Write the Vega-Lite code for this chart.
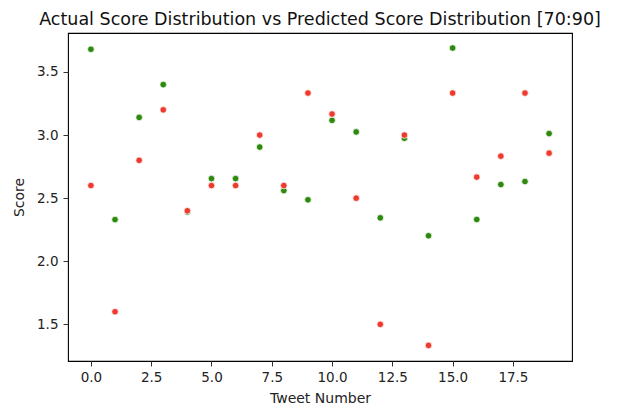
{
  "$schema": "https://vega.github.io/schema/vega-lite/v6.json",
  "autosize": {"type": "none"},
  "padding": {"left": 68, "top": 33, "right": 50, "bottom": 47},
  "width": 504,
  "height": 328,
  "background": "white",
  "config": {
    "font": "DejaVu Sans",
    "view": {"stroke": "#000000", "strokeWidth": 1.1},
    "axis": {"grid": false, "domain": false, "tickColor": "#333333", "tickSize": 5, "labelColor": "#222222", "titleColor": "#222222", "labelFont": "DejaVu Sans", "titleFont": "DejaVu Sans", "labelFontSize": 13.5, "titleFontSize": 14, "titleFontWeight": "normal"}
  },
  "title": {"text": "Actual Score Distribution vs Predicted Score Distribution [70:90]", "font": "DejaVu Sans", "fontSize": 17.5, "fontWeight": "normal", "color": "#111111", "anchor": "middle", "offset": 5},
  "data": {"values": [
    {"tweet": 0, "score": 3.68, "type": "Actual"},
    {"tweet": 1, "score": 2.33, "type": "Actual"},
    {"tweet": 2, "score": 3.14, "type": "Actual"},
    {"tweet": 3, "score": 3.40, "type": "Actual"},
    {"tweet": 4, "score": 2.39, "type": "Actual"},
    {"tweet": 5, "score": 2.655, "type": "Actual"},
    {"tweet": 6, "score": 2.655, "type": "Actual"},
    {"tweet": 7, "score": 2.905, "type": "Actual"},
    {"tweet": 8, "score": 2.56, "type": "Actual"},
    {"tweet": 9, "score": 2.487, "type": "Actual"},
    {"tweet": 10, "score": 3.117, "type": "Actual"},
    {"tweet": 11, "score": 3.025, "type": "Actual"},
    {"tweet": 12, "score": 2.344, "type": "Actual"},
    {"tweet": 13, "score": 2.975, "type": "Actual"},
    {"tweet": 14, "score": 2.202, "type": "Actual"},
    {"tweet": 15, "score": 3.69, "type": "Actual"},
    {"tweet": 16, "score": 2.331, "type": "Actual"},
    {"tweet": 17, "score": 2.608, "type": "Actual"},
    {"tweet": 18, "score": 2.632, "type": "Actual"},
    {"tweet": 19, "score": 3.012, "type": "Actual"},
    {"tweet": 0, "score": 2.6, "type": "Predicted"},
    {"tweet": 1, "score": 1.6, "type": "Predicted"},
    {"tweet": 2, "score": 2.8, "type": "Predicted"},
    {"tweet": 3, "score": 3.2, "type": "Predicted"},
    {"tweet": 4, "score": 2.4, "type": "Predicted"},
    {"tweet": 5, "score": 2.6, "type": "Predicted"},
    {"tweet": 6, "score": 2.6, "type": "Predicted"},
    {"tweet": 7, "score": 3.0, "type": "Predicted"},
    {"tweet": 8, "score": 2.6, "type": "Predicted"},
    {"tweet": 9, "score": 3.333, "type": "Predicted"},
    {"tweet": 10, "score": 3.167, "type": "Predicted"},
    {"tweet": 11, "score": 2.5, "type": "Predicted"},
    {"tweet": 12, "score": 1.5, "type": "Predicted"},
    {"tweet": 13, "score": 3.0, "type": "Predicted"},
    {"tweet": 14, "score": 1.333, "type": "Predicted"},
    {"tweet": 15, "score": 3.333, "type": "Predicted"},
    {"tweet": 16, "score": 2.667, "type": "Predicted"},
    {"tweet": 17, "score": 2.833, "type": "Predicted"},
    {"tweet": 18, "score": 3.333, "type": "Predicted"},
    {"tweet": 19, "score": 2.857, "type": "Predicted"}
  ]},
  "mark": {"type": "point", "shape": "circle", "filled": true, "size": 44, "stroke": "white", "strokeWidth": 0.75, "opacity": 1},
  "encoding": {
    "x": {"field": "tweet", "type": "quantitative", "title": "Tweet Number",
          "scale": {"domain": [-0.95, 19.95], "nice": false, "zero": false},
          "axis": {"values": [0, 2.5, 5, 7.5, 10, 12.5, 15, 17.5], "format": ".1f", "labelPadding": 4, "titlePadding": 8}},
    "y": {"field": "score", "type": "quantitative", "title": "Score",
          "scale": {"domain": [1.2096, 3.809], "nice": false, "zero": false},
          "axis": {"values": [1.5, 2.0, 2.5, 3.0, 3.5], "format": ".1f", "labelPadding": 5, "titlePadding": 10}},
    "color": {"field": "type", "type": "nominal", "legend": null,
              "scale": {"domain": ["Actual", "Predicted"], "range": ["#2d8a0e", "#ef3b2f"]}}
  }
}
